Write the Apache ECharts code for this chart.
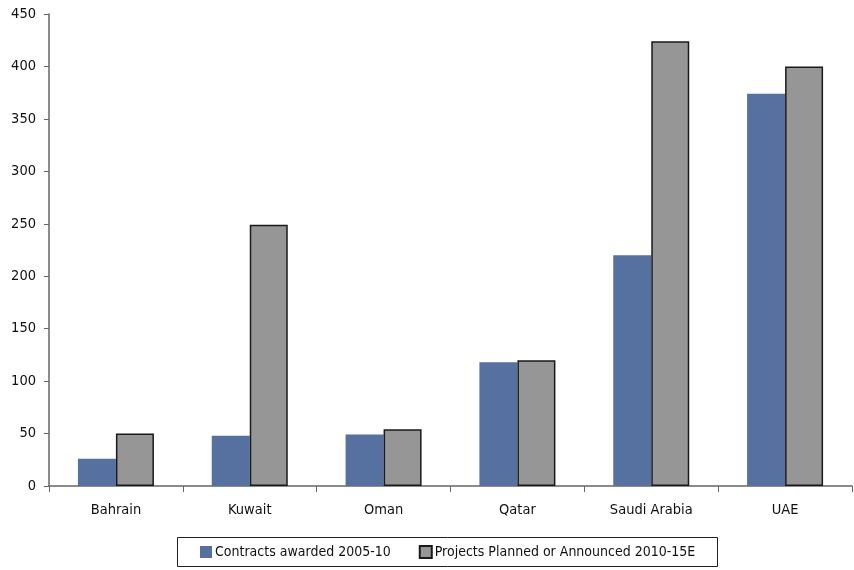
<!DOCTYPE html>
<html>
<head>
<meta charset="utf-8">
<script src="https://cdn.jsdelivr.net/npm/echarts@6/dist/echarts.min.js"></script>
<style>
  html, body { margin: 0; padding: 0; background: #fff; }
  #chart { width: 854px; height: 570px; }
</style>
</head>
<body>
<div id="chart"></div>
<script>
// GCC project values by country (US$ bn)
const countries = ['Bahrain', 'Kuwait', 'Oman', 'Qatar', 'Saudi Arabia', 'UAE'];
const contractsAwarded = [26, 48, 49, 118, 220, 374];
const projectsPlanned = [50, 249, 54, 120, 424, 400];
const seriesNames = ['Contracts awarded 2005-10', 'Projects Planned or Announced 2010-15E'];

const FONT = "'Liberation Sans Narrow', 'DejaVu Sans Condensed', sans-serif";

const chart = echarts.init(document.getElementById('chart'));
chart.setOption({
  animation: false,
  textStyle: { fontFamily: FONT },
  grid: { left: 49, right: 2, top: 14, bottom: 84 },
  // frame around the legend
  graphic: [{
    type: 'rect',
    shape: { x: 177.5, y: 537.5, width: 540, height: 29 },
    style: { fill: '#fff', stroke: '#222', lineWidth: 1 },
    z: 0
  }],
  legend: {
    left: 200,
    top: 545,
    padding: 0,
    itemGap: 28,
    itemWidth: 12,
    itemHeight: 12,
    textStyle: { fontFamily: FONT, fontSize: 14, color: '#111', padding: [0, 0, 0, -2] },
    data: [
      { name: seriesNames[0], icon: 'rect' },
      { name: seriesNames[1], icon: 'rect' }
    ],
    z: 5
  },
  xAxis: {
    type: 'category',
    data: countries,
    axisLine: { lineStyle: { color: '#666', width: 1.5 } },
    axisTick: { show: true, length: 6, lineStyle: { color: '#666' } },
    axisLabel: { fontFamily: FONT, fontSize: 14.5, color: '#111', margin: 17 }
  },
  yAxis: {
    type: 'value',
    min: 0,
    max: 450,
    interval: 50,
    splitLine: { show: false },
    axisLine: { show: true, lineStyle: { color: '#666', width: 1.5 } },
    axisTick: { show: true, length: 5, lineStyle: { color: '#666' } },
    axisLabel: { fontFamily: FONT, fontSize: 14.5, color: '#111', margin: 13 }
  },
  series: [
    {
      name: seriesNames[0],
      type: 'bar',
      data: contractsAwarded,
      barWidth: 38,
      barGap: '0%',
      itemStyle: { color: '#5670a0' }
    },
    {
      name: seriesNames[1],
      type: 'bar',
      data: projectsPlanned,
      barWidth: 38,
      barGap: '0%',
      itemStyle: { color: '#969696', borderColor: '#1a1a1a', borderWidth: 1.5 }
    }
  ]
});
</script>
</body>
</html>
